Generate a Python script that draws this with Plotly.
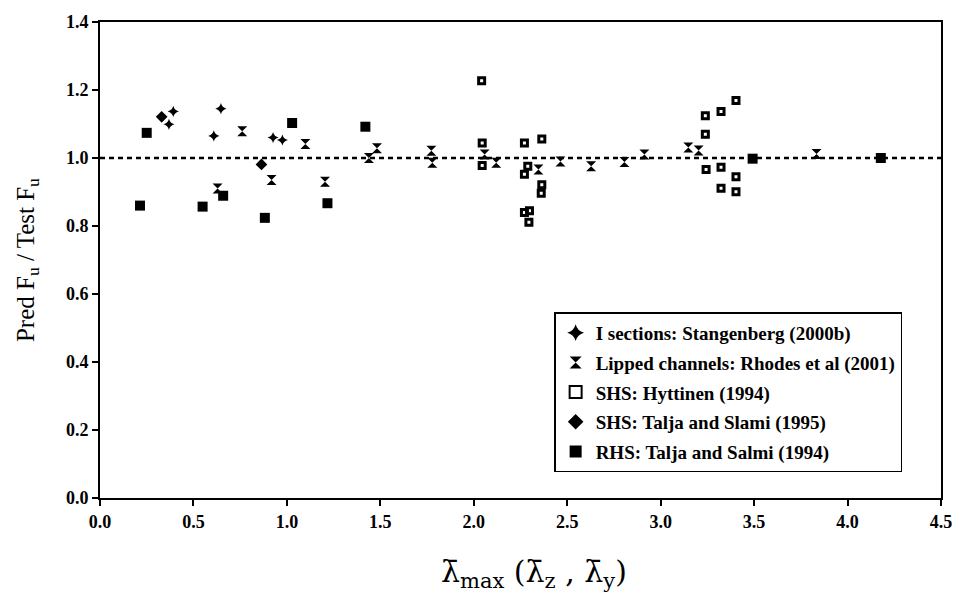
import plotly.graph_objects as go

# Slenderness (lambda_max) and ratio of predicted to test ultimate load, per test series
i_sec_x = [0.392, 0.369, 0.647, 0.609, 0.926, 0.976]
i_sec_y = [1.137, 1.099, 1.145, 1.065, 1.060, 1.053]

lipped_x = [0.761, 1.099, 1.439, 1.482, 0.918, 0.629, 1.204, 1.773, 1.778, 2.058,
            2.120, 2.346, 2.464, 2.628, 2.806, 2.913, 3.148, 3.203, 3.834]
lipped_y = [1.079, 1.041, 1.000, 1.029, 0.935, 0.910, 0.930, 1.021, 0.986, 1.010,
            0.986, 0.966, 0.990, 0.976, 0.988, 1.010, 1.031, 1.022, 1.012]

shs_h_x = [2.042, 2.045, 2.045, 2.271, 2.364, 2.289, 2.271, 2.364, 2.361, 2.271, 2.298,
           2.295, 3.239, 3.323, 3.403, 3.239, 3.243, 3.323, 3.403, 3.323, 3.403]
shs_h_y = [1.227, 1.044, 0.978, 1.044, 1.056, 0.976, 0.952, 0.921, 0.896, 0.840, 0.845,
           0.811, 1.124, 1.137, 1.169, 1.070, 0.966, 0.973, 0.945, 0.911, 0.901]

shs_t_x = [0.330, 0.864]
shs_t_y = [1.121, 0.981]

rhs_x = [0.250, 1.028, 1.420, 0.659, 0.214, 0.549, 0.882, 1.217, 3.492, 4.178]
rhs_y = [1.074, 1.103, 1.092, 0.889, 0.860, 0.857, 0.824, 0.867, 0.998, 1.000]

ref_x = [0.0, 4.5]
ref_y = [1.0, 1.0]

x_ticks = [0.0, 0.5, 1.0, 1.5, 2.0, 2.5, 3.0, 3.5, 4.0, 4.5]
y_ticks = [0.0, 0.2, 0.4, 0.6, 0.8, 1.0, 1.2, 1.4]

FONT = "Liberation Serif"

fig = go.Figure()

fig.add_trace(go.Scatter(x=ref_x, y=ref_y, mode="lines", showlegend=False,
                         line=dict(color="black", width=2.5, dash="5px,4px"),
                         hoverinfo="skip"))

series = [
    ("I sections: Stangenberg (2000b)", i_sec_x, i_sec_y,
     dict(symbol="star-diamond", size=8, color="black")),
    ("Lipped channels: Rhodes et al (2001)", lipped_x, lipped_y,
     dict(symbol="hourglass", size=10, color="black")),
    ("SHS: Hyttinen (1994)", shs_h_x, shs_h_y,
     dict(symbol="square-open", size=6, color="black", line=dict(width=3, color="black"))),
    ("SHS: Talja and Slami (1995)", shs_t_x, shs_t_y,
     dict(symbol="diamond", size=9, color="black")),
    ("RHS: Talja and Salmi (1994)", rhs_x, rhs_y,
     dict(symbol="square", size=10, color="black")),
]
for i, (name, xs, ys, mk) in enumerate(series):
    fig.add_trace(go.Scatter(x=xs, y=ys, mode="markers", name=name, marker=mk,
                             legendgroup=f"g{i}"))

axis_common = dict(showline=True, mirror=True, linecolor="black", linewidth=2,
                   ticks="outside", ticklen=6, tickwidth=1.5, tickcolor="black",
                   showgrid=False, zeroline=False, tickformat=".1f",
                   tickfont=dict(family=FONT, size=18, color="black", weight="bold"))

fig.update_layout(
    width=964, height=604,
    margin=dict(l=100, r=22, t=15, b=106),
    paper_bgcolor="white", plot_bgcolor="white",
    font=dict(family=FONT, color="black"),
    xaxis=dict(range=[0, 4.5], tickvals=x_ticks, **axis_common),
    yaxis=dict(range=[0, 1.4], tickvals=y_ticks, **axis_common),
    legend=dict(x=0.540, y=0.39, xanchor="left", yanchor="top",
                bgcolor="white", bordercolor="black", borderwidth=1.5,
                font=dict(family=FONT, size=19, color="black", weight="bold"),
                tracegroupgap=2, itemsizing="constant"),
    annotations=[
        dict(text="Pred F<sub>u</sub> / Test F<sub>u</sub>", xref="paper", yref="paper",
             x=-0.0867, y=0.5, textangle=-90, showarrow=False,
             xanchor="center", yanchor="middle",
             font=dict(family=FONT, size=25, color="black")),
        dict(text="λ\u0304<sub>max</sub> (λ\u0304<sub>z</sub> , λ\u0304<sub>y</sub>)",
             xref="paper", yref="paper", x=0.516, y=-0.159, showarrow=False,
             xanchor="center", yanchor="middle",
             font=dict(family="DejaVu Serif", size=30, color="black")),
    ],
)

fig.write_html("out.html")
